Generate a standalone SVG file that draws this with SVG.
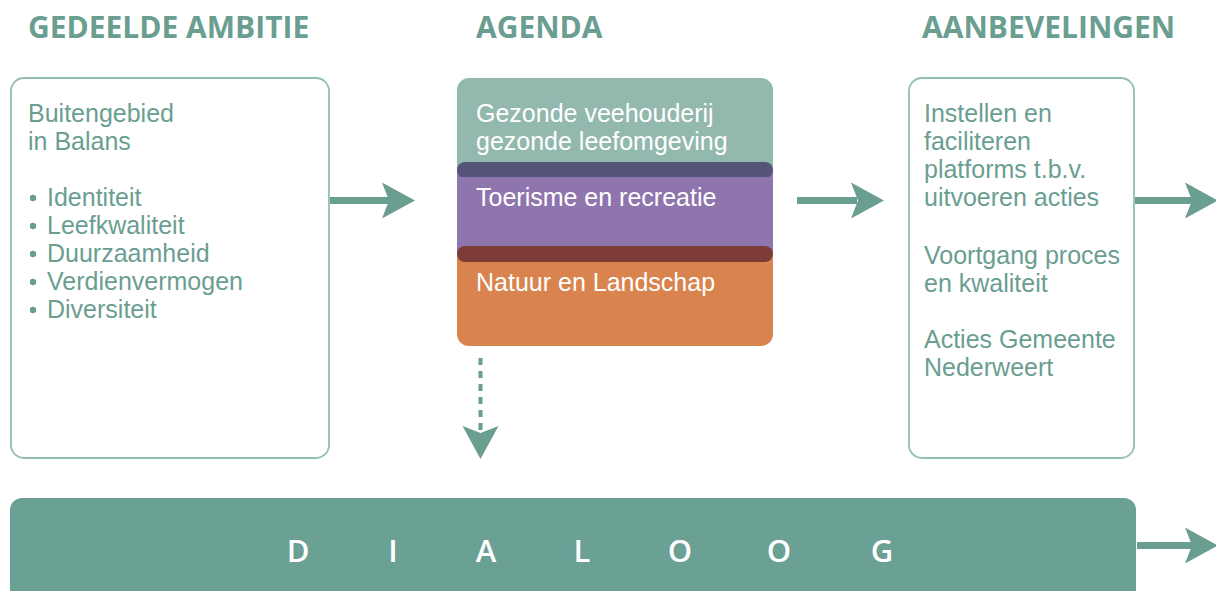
<svg xmlns="http://www.w3.org/2000/svg" width="1216" height="591" viewBox="0 0 1216 591">
<defs>
<style>
.h{font-family:"Open Sans","Noto Sans",sans-serif;font-weight:bold;font-size:30px;fill:#6a9e91}
.t{font-family:"Liberation Sans",Arial,sans-serif;font-size:25px;fill:#6a9e91}
.w{font-family:"Liberation Sans",Arial,sans-serif;font-size:25px;fill:#ffffff}
.box{fill:#ffffff;stroke:#8fc0b1;stroke-width:1.8}
.ar{fill:#6a9e91}
.dot{fill:#6a9e91}
.dl{font-family:"Open Sans","Noto Sans",sans-serif;font-weight:600;font-size:31px;fill:#ffffff}
</style>
<path id="ah" d="M0,0 L-33,-18 L-26,0 L-33,18 Z"/>
</defs>
<rect width="1216" height="591" fill="#ffffff"/>
<g id="headings">
<text class="h" x="28" y="38">GEDEELDE AMBITIE</text>
<text class="h" x="476" y="38">AGENDA</text>
<text class="h" x="922" y="38">AANBEVELINGEN</text>
</g>
<g id="ambitie">
<rect class="box" x="11" y="78" width="318" height="380" rx="13"/>
<text class="t" x="28" y="122">Buitengebied</text>
<text class="t" x="28" y="150">in Balans</text>
<circle class="dot" cx="33" cy="198" r="3.2"/>
<circle class="dot" cx="33" cy="226" r="3.2"/>
<circle class="dot" cx="33" cy="254" r="3.2"/>
<circle class="dot" cx="33" cy="282" r="3.2"/>
<circle class="dot" cx="33" cy="310" r="3.2"/>
<text class="t" x="47" y="206">Identiteit</text>
<text class="t" x="47" y="234">Leefkwaliteit</text>
<text class="t" x="47" y="262">Duurzaamheid</text>
<text class="t" x="47" y="290">Verdienvermogen</text>
<text class="t" x="47" y="318">Diversiteit</text>
</g>
<g id="agenda">
<rect x="457" y="78" width="316" height="100" rx="12" fill="#93b8ae"/>
<rect x="457" y="248" width="316" height="98" rx="12" fill="#d9844f"/>
<rect x="457" y="163" width="316" height="98" rx="8" fill="#8f75ae"/>
<rect x="457" y="162" width="316" height="16" rx="8" fill="#54547a"/>
<rect x="457" y="246" width="316" height="16" rx="8" fill="#7d3c36"/>
<rect x="457" y="177" width="316" height="69" fill="#8f75ae"/>
<rect x="457" y="262" width="316" height="20" fill="#d9844f"/>
<text class="w" x="476" y="122">Gezonde veehouderij</text>
<text class="w" x="476" y="150">gezonde leefomgeving</text>
<text class="w" x="476" y="206">Toerisme en recreatie</text>
<text class="w" x="476" y="291">Natuur en Landschap</text>
</g>
<g id="aanbevelingen">
<rect class="box" x="909" y="78" width="225" height="380" rx="13"/>
<text class="t" x="924" y="122">Instellen en</text>
<text class="t" x="924" y="150">faciliteren</text>
<text class="t" x="924" y="178">platforms t.b.v.</text>
<text class="t" x="924" y="206">uitvoeren acties</text>
<text class="t" x="924" y="264">Voortgang proces</text>
<text class="t" x="924" y="292">en kwaliteit</text>
<text class="t" x="924" y="348">Acties Gemeente</text>
<text class="t" x="924" y="376">Nederweert</text>
</g>
<g id="dialoog">
<rect x="10" y="498" width="1126" height="110" rx="12" fill="#6ba094"/>
<text class="dl" y="562" text-anchor="middle"><tspan x="298">D</tspan><tspan x="393">I</tspan><tspan x="486">A</tspan><tspan x="582">L</tspan><tspan x="680">O</tspan><tspan x="779">O</tspan><tspan x="882">G</tspan></text>
</g>
<g id="connectors">
<rect class="ar" x="330" y="197" width="60" height="7"/>
<use href="#ah" class="ar" transform="translate(415,200.5)"/>
<rect class="ar" x="797" y="197" width="60" height="7"/>
<use href="#ah" class="ar" transform="translate(884,200.5)"/>
<rect class="ar" x="1135" y="197" width="60" height="7"/>
<use href="#ah" class="ar" transform="translate(1218,200.5)"/>
<rect class="ar" x="1137" y="542" width="60" height="7"/>
<use href="#ah" class="ar" transform="translate(1218,545.5)"/>
<line x1="480.5" y1="358" x2="480.5" y2="432" stroke="#6a9e91" stroke-width="4" stroke-dasharray="7,6"/>
<use href="#ah" class="ar" transform="translate(480.5,459) rotate(90)"/>
</g>
</svg>
